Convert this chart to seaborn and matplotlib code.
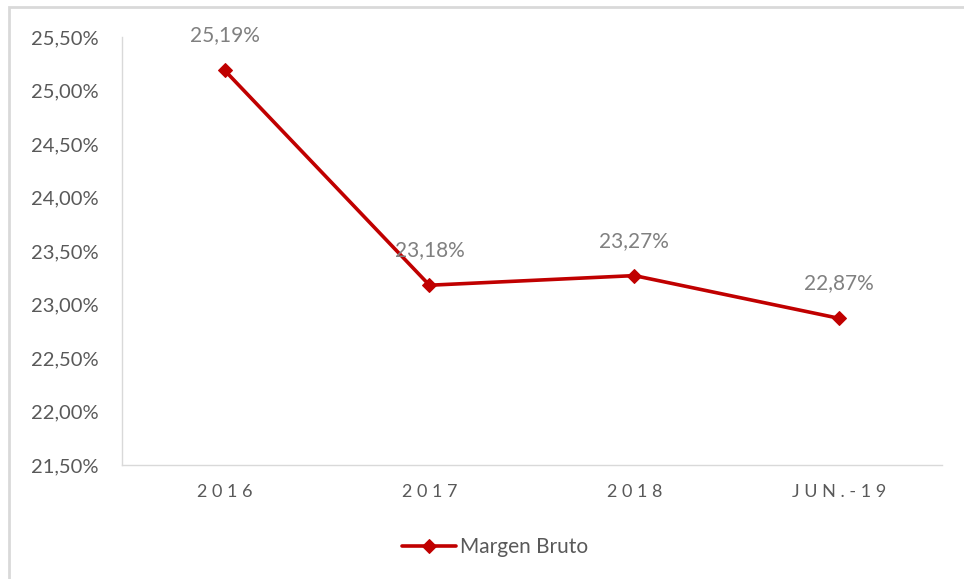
import matplotlib
matplotlib.use("Agg")
import matplotlib.pyplot as plt
import matplotlib.patches as mpatches
from matplotlib.ticker import FuncFormatter
import seaborn as sns
import pandas as pd

# chart values
periods = ["2016", "2017", "2018", "JUN.-19"]
margen_bruto = [25.19, 23.18, 23.27, 22.87]
y_ticks = [21.5, 22.0, 22.5, 23.0, 23.5, 24.0, 24.5, 25.0, 25.5]

red = "#C00000"
grid_grey = "#D9D9D9"
tick_grey = "#595959"
label_grey = "#808080"

sns.set_theme(style="white")
plt.rcParams["font.family"] = ["Lato", "DejaVu Sans"]

df = pd.DataFrame({"Periodo": periods, "Margen Bruto": margen_bruto})

fig = plt.figure(figsize=(9.64, 5.79), dpi=100)
ax = fig.add_axes([0.1266, 0.197, 0.8504, 0.739])

sns.lineplot(data=df, x="Periodo", y="Margen Bruto", ax=ax, color=red,
             linewidth=2.6, marker="D", markersize=7, markeredgecolor=red,
             label="Margen Bruto", sort=False)

ax.set_xlim(-0.5, len(periods) - 0.5)
ax.set_ylim(y_ticks[0], y_ticks[-1])
ax.set_yticks(y_ticks)
ax.yaxis.set_major_formatter(FuncFormatter(lambda v, p: f"{v:.2f}%".replace(".", ",")))
ax.set_xticks(range(len(periods)))
ax.set_xticklabels([" ".join(p) for p in periods])
ax.tick_params(axis="y", labelsize=14.5, colors=tick_grey, length=0, pad=17)
ax.tick_params(axis="x", labelsize=13, colors=tick_grey, length=0, pad=14)
ax.set_xlabel("")
ax.set_ylabel("")

for s in ["top", "right"]:
    ax.spines[s].set_visible(False)
for s in ["left", "bottom"]:
    ax.spines[s].set_color(grid_grey)
    ax.spines[s].set_linewidth(1)

for i, v in enumerate(margen_bruto):
    ax.annotate(f"{v:.2f}%".replace(".", ","), (i, v), xytext=(0, 18),
                textcoords="offset points", ha="center", va="bottom",
                fontsize=15, color=label_grey)

leg = ax.legend(loc="upper center", bbox_to_anchor=(0.455, -0.125), frameon=False,
                fontsize=15, handlelength=2.6, handletextpad=0.2)
for t in leg.get_texts():
    t.set_color(tick_grey)

# outer chart border (only top and left edges visible in the crop)
fig.patches.append(mpatches.Rectangle((9 / 964, -0.05), 1.1, 1 - 7 / 579 + 0.05,
                                      transform=fig.transFigure, fill=False,
                                      edgecolor=grid_grey, linewidth=2))

fig.savefig("out.png", dpi=100)
